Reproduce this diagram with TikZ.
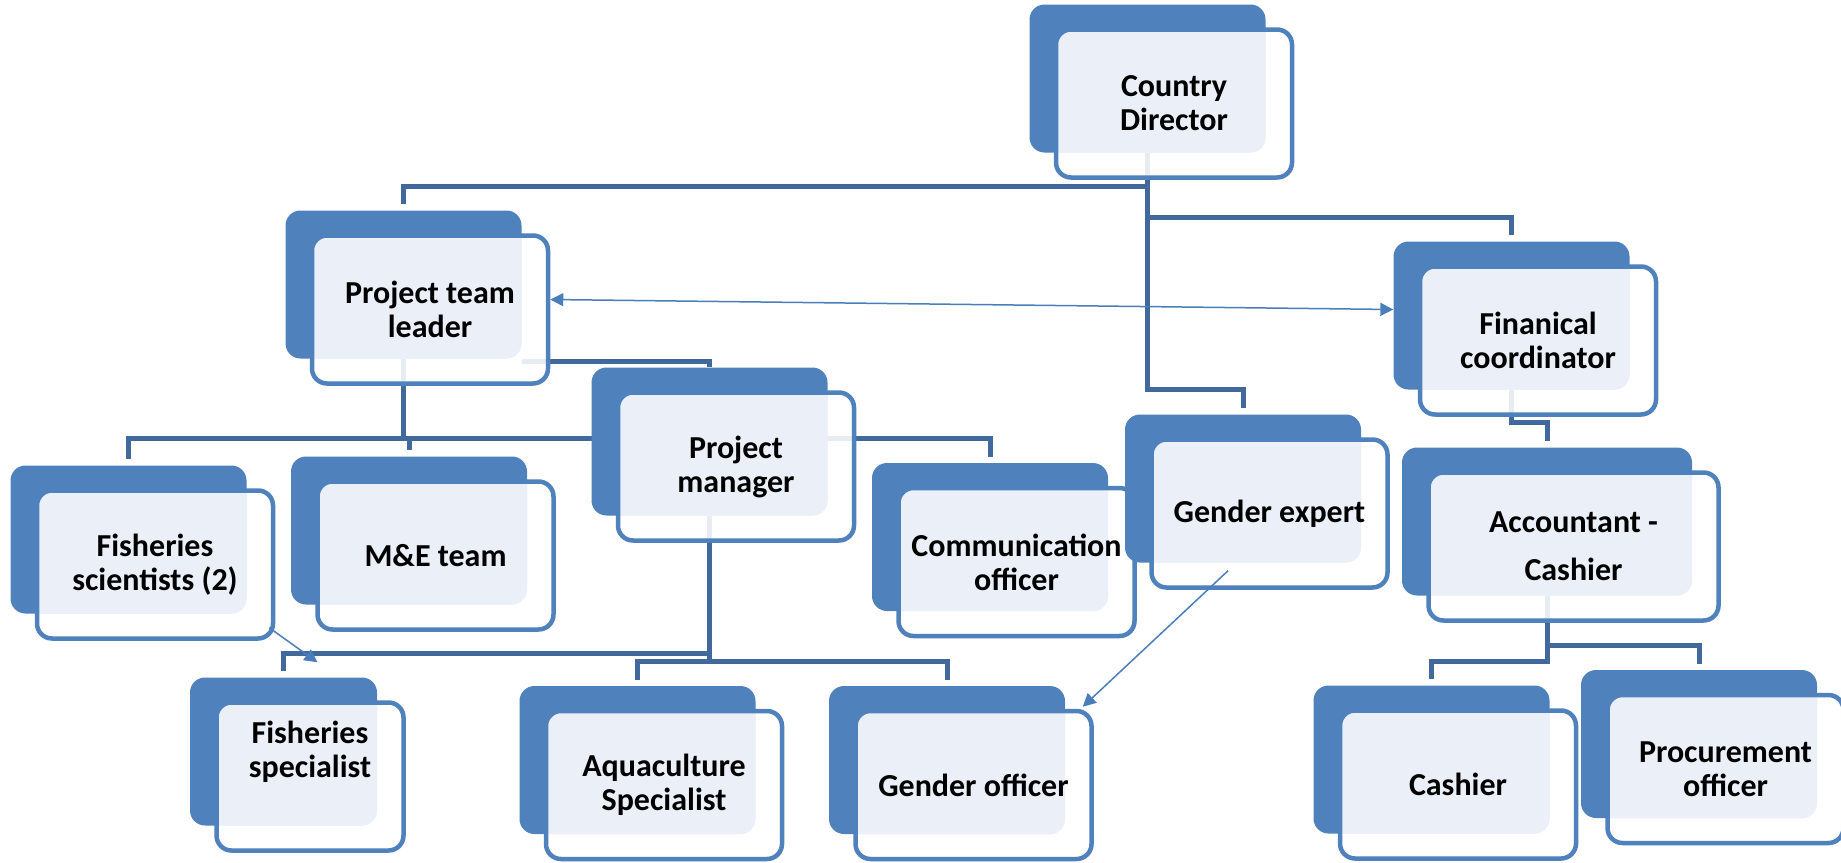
\documentclass[tikz,border=0pt]{standalone}
\usepackage{fontspec}
\setmainfont{Carlito}
\usetikzlibrary{arrows.meta,backgrounds}
\definecolor{unitblue}{HTML}{4F81BD}
\definecolor{unitlight}{HTML}{EBF0F8}
\definecolor{linkblue}{HTML}{41699C}
\definecolor{pointblue}{HTML}{4A7EBB}
\tikzset{
  unitback/.style={fill=unitblue,rounded corners=15pt,inner sep=0pt,minimum width=236pt,minimum height=148pt},
  cardtext/.style={align=center,font=\fontsize{32}{34}\selectfont\bfseries,text=black},
  unitcard/.style={draw=unitblue,line width=4.5pt,fill=white,fill opacity=0.88,text opacity=1,rounded corners=15pt,inner sep=0pt,minimum width=236pt,minimum height=148pt,cardtext,
    path picture={\fill[unitlight,fill opacity=1,rounded corners=15pt] ([shift={(-26.5pt,25pt)}]path picture bounding box.south west) rectangle ([shift={(-26.5pt,25pt)}]path picture bounding box.north east);}},
  link/.style={draw=linkblue,line width=5pt},
  pointer/.style={draw=pointblue,line width=1.5pt,>={Triangle[length=13pt,width=13pt]}}
}
\begin{document}
\begin{tikzpicture}[x=1pt,y=-1pt]
    \useasboundingbox (0,0) rectangle (1841,862);
    % heights of the connector bars
    \coordinate (bar1) at (0,186);
    \coordinate (bar2) at (0,217);
    \coordinate (bar3) at (0,389);
    \coordinate (bar4) at (0,361);
    \coordinate (bar5) at (0,438);
    \coordinate (bar6) at (0,653);
    \coordinate (bar7) at (0,661);
    \coordinate (bar8) at (0,422);
    \coordinate (bar9) at (0,661);
    \coordinate (bar10) at (0,645);

    \node[unitback] (cd) at (1147.5,78.5) {};
    \node[unitcard] (cd-card) at ([shift={(26.5,25)}]cd) {Country\\Director};
    \node[unitback] (ptl) at (403.5,284.5) {};
    \node[unitcard] (ptl-card) at ([shift={(26.5,25)}]ptl) {Project team\\leader};
    \node[unitback] (fin) at (1511.5,315.5) {};
    \node[unitcard] (fin-card) at ([shift={(26.5,25)}]fin) {Finanical\\coordinator};
    \node[unitback] (pm) at (709.5,441.5) {};
    \node[unitcard] (pm-card) at ([shift={(26.5,25)}]pm) {Project\\manager};
    \node[unitback] (fsc) at (128.5,539.5) {};
    \node[unitcard] (fsc-card) at ([shift={(26.5,25)}]fsc) {Fisheries\\scientists (2)};
    \node[unitback] (met) at (409,530.5) {};
    \node[unitcard] (met-card) at ([shift={(26.5,25)}]met) {M\&E team};
    \node[unitback] (com) at (990,537) {};
    \node[unitcard] (com-card) at ([shift={(26.5,25)}]com) {Communication\\officer};
    \node[unitback] (gex) at (1243,488.5) {};
    \node[unitcard] (gex-card) at ([shift={(26.5,25)}]gex) {Gender expert};
    \node[unitback,minimum width=290pt] (acc) at (1547,521.5) {};
    \node[unitcard,minimum width=290pt] (acc-card) at ([shift={(26.5,25)}]acc) {Accountant -\\[14pt]Cashier};
    \node[unitback,minimum width=187pt] (fsp) at (283.5,751.5) {};
    \node[unitcard,minimum width=187pt,label={[cardtext,yshift=25pt]center:Fisheries\\specialist}] (fsp-card) at ([shift={(26.5,25)}]fsp) {};
    \node[unitback] (aqu) at (637.5,760) {};
    \node[unitcard] (aqu-card) at ([shift={(26.5,25)}]aqu) {Aquaculture\\Specialist};
    \node[unitback] (gof) at (947,760) {};
    \node[unitcard] (gof-card) at ([shift={(26.5,25)}]gof) {Gender officer};
    \node[unitback] (cas) at (1431.5,759.5) {};
    \node[unitcard] (cas-card) at ([shift={(26.5,25)}]cas) {Cashier};
    \node[unitback] (pro) at (1699,744) {};
    \node[unitcard] (pro-card) at ([shift={(26.5,25)}]pro) {Procurement\\officer};

    \begin{pgfonlayer}{background}
      \fill[white] (0,0) rectangle (1841,862);
      \draw[link] (cd) |- (ptl |- bar1) -- ([yshift=6pt]ptl.north);
      \draw[link] (cd) |- (fin |- bar2) -- ([yshift=6pt]fin.north);
      \draw[link] (cd) |- (gex |- bar3) -- ([yshift=6pt]gex.north);
      \draw[link] (ptl.south east |- bar4) -| (pm);
      \draw[link] (ptl) |- (fsc |- bar5) -- ([yshift=6pt]fsc.north);
      \draw[link] (ptl) |- (met |- bar5) -- ([yshift=6pt]met.north);
      \draw[link] (ptl) |- (com |- bar5) -- ([yshift=6pt]com.north);
      \draw[link] (pm) |- (fsp |- bar6) -- ([yshift=6pt]fsp.north);
      \draw[link] (pm) |- (aqu |- bar7) -- ([yshift=6pt]aqu.north);
      \draw[link] (pm) |- (gof |- bar7) -- ([yshift=6pt]gof.north);
      \draw[link] (fin) |- (acc |- bar8) -- ([yshift=6pt]acc.north);
      \draw[link] (acc) |- (cas |- bar9) -- ([yshift=6pt]cas.north);
      \draw[link] (acc) |- (pro |- bar10) -- ([yshift=6pt]pro.north);
    \end{pgfonlayer}

    \draw[pointer,<->] ([yshift=10pt]ptl-card.east) -- ([yshift=6pt]fin.west);
    \draw[pointer,->] ([shift={(-6,-13)}]fsc-card.south east) -- ([shift={(34,-15)}]fsp.north);
    \draw[pointer,->] ([shift={(-41.5,-19)}]gex-card.south) -- ([shift={(-11,-2)}]gof-card.north east);
\end{tikzpicture}
\end{document}
